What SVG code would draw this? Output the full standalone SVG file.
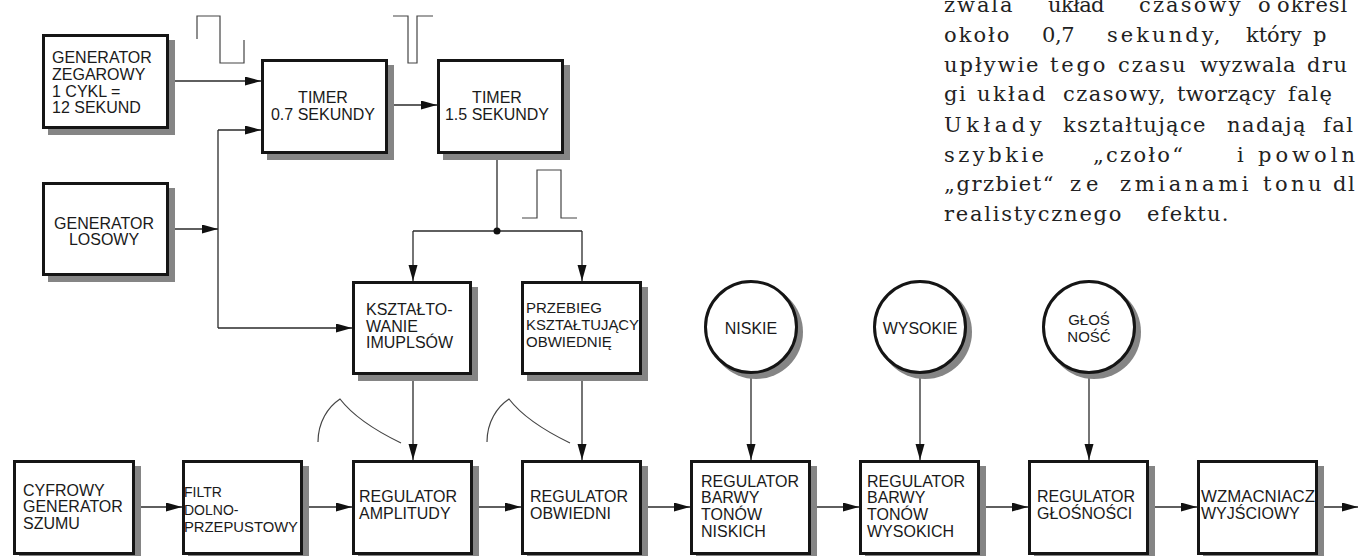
<svg xmlns="http://www.w3.org/2000/svg" width="1358" height="556" viewBox="0 0 1358 556">
<style>
.box{fill:#fff;stroke:#151515;stroke-width:3}
.shd{fill:#858585}
.t{font-family:"Liberation Sans",Arial,sans-serif;font-size:16px;fill:#1a1a1a}
.s15{font-size:15px}
.s14{font-size:14px}
.c{stroke:#2a2a2a;stroke-width:1.3;fill:none}
.w{stroke:#444;stroke-width:1.2;fill:none}
.p{font-family:"DejaVu Serif","Liberation Serif",serif;font-size:21px;fill:#222}
</style>
<defs>
<marker id="ah" markerUnits="userSpaceOnUse" markerWidth="17" markerHeight="10" refX="16" refY="4.5" orient="auto">
<path d="M0,0 L16,4.5 L0,9 z" fill="#111"/>
</marker>
</defs>
<rect width="1358" height="556" fill="#fff"/>

<!-- text paragraph -->
<g id="paragraph">
<text class="p" y="12" letter-spacing="2.5"><tspan x="944" textLength="71" lengthAdjust="spacing">zwala</tspan><tspan x="1048" textLength="59" lengthAdjust="spacing">układ</tspan><tspan x="1139" textLength="104" lengthAdjust="spacing">czasowy</tspan><tspan x="1258">o</tspan><tspan x="1277" letter-spacing="1">określ</tspan></text>
<text class="p" y="42" letter-spacing="2.5"><tspan x="944" textLength="68" lengthAdjust="spacing">około</tspan><tspan x="1042" textLength="35" lengthAdjust="spacing">0,7</tspan><tspan x="1107" textLength="116" lengthAdjust="spacing">sekundy,</tspan><tspan x="1246" textLength="58" lengthAdjust="spacing">który</tspan><tspan x="1313">p</tspan></text>
<text class="p" y="72" letter-spacing="1.5"><tspan x="944" textLength="96" lengthAdjust="spacing">upływie</tspan><tspan x="1050" textLength="57" lengthAdjust="spacing">tego</tspan><tspan x="1118" textLength="69" lengthAdjust="spacing">czasu</tspan><tspan x="1200" textLength="97" lengthAdjust="spacing">wyzwala</tspan><tspan x="1307">dru</tspan></text>
<text class="p" y="101" letter-spacing="1.5"><tspan x="944">gi</tspan><tspan x="977" textLength="70" lengthAdjust="spacing">układ</tspan><tspan x="1063" textLength="104" lengthAdjust="spacing">czasowy,</tspan><tspan x="1177" textLength="100" lengthAdjust="spacing">tworzący</tspan><tspan x="1288">falę</tspan></text>
<text class="p" y="132" letter-spacing="1.5"><tspan x="944" textLength="99" lengthAdjust="spacing">Układy</tspan><tspan x="1063" textLength="144" lengthAdjust="spacing">kształtujące</tspan><tspan x="1227" textLength="80" lengthAdjust="spacing">nadają</tspan><tspan x="1323">fal</tspan></text>
<text class="p" y="162" letter-spacing="4"><tspan x="944" textLength="104" lengthAdjust="spacing">szybkie</tspan><tspan x="1093" textLength="94" lengthAdjust="spacing">„czoło“</tspan><tspan x="1237">i</tspan><tspan x="1258">powoln</tspan></text>
<text class="p" y="191" letter-spacing="1.5"><tspan x="944" textLength="111" lengthAdjust="spacing">„grzbiet“</tspan><tspan x="1070" textLength="30" lengthAdjust="spacing">ze</tspan><tspan x="1120" textLength="130" lengthAdjust="spacing">zmianami</tspan><tspan x="1263" textLength="60" lengthAdjust="spacing">tonu</tspan><tspan x="1333">dl</tspan></text>
<text class="p" y="221" letter-spacing="1.5"><tspan x="944" textLength="179" lengthAdjust="spacing">realistycznego</tspan><tspan x="1147" textLength="83" lengthAdjust="spacing">efektu.</tspan></text>
</g>

<!-- waveforms -->
<g id="waveforms">
<path class="w" d="M197,39 V16 H220 V63 H244 V40"/>
<path class="w" d="M393,16 H408 V63 H417 V16 H433"/>
<path class="w" d="M522,218 H537 V170 H561 V218 H577"/>
<path class="w" d="M318,442 C318,422 328,407 340,399 C350,412 370,428 401,443"/>
<path class="w" d="M487,442 C487,422 497,407 509,399 C519,412 539,428 570,443"/>
</g>

<!-- connectors -->
<g id="connectors">
<path class="c" d="M169,81 H261" marker-end="url(#ah)"/>
<path class="c" d="M169,229 H218" marker-end="url(#ah)"/>
<path class="c" d="M218,130 V328"/>
<path class="c" d="M218,130 H261" marker-end="url(#ah)"/>
<path class="c" d="M218,328 H352" marker-end="url(#ah)"/>
<path class="c" d="M388,105 H437" marker-end="url(#ah)"/>
<path class="c" d="M497,154 V231"/>
<path class="c" d="M413,231 H582"/>
<path class="c" d="M413,231 V281" marker-end="url(#ah)"/>
<path class="c" d="M582,231 V281" marker-end="url(#ah)"/>
<circle cx="497" cy="231" r="3.5" fill="#111"/>
<path class="c" d="M413,375 V460" marker-end="url(#ah)"/>
<path class="c" d="M582,375 V460" marker-end="url(#ah)"/>
<path class="c" d="M751,374 V460" marker-end="url(#ah)"/>
<path class="c" d="M920,374 V460" marker-end="url(#ah)"/>
<path class="c" d="M1089,374 V460" marker-end="url(#ah)"/>
<path class="c" d="M135,507 H182" marker-end="url(#ah)"/>
<path class="c" d="M303,507 H352" marker-end="url(#ah)"/>
<path class="c" d="M473,507 H521" marker-end="url(#ah)"/>
<path class="c" d="M642,507 H690" marker-end="url(#ah)"/>
<path class="c" d="M811,507 H859" marker-end="url(#ah)"/>
<path class="c" d="M980,507 H1028" marker-end="url(#ah)"/>
<path class="c" d="M1149,507 H1197" marker-end="url(#ah)"/>
<path class="c" d="M1318,507 H1358" marker-end="url(#ah)"/>
</g>

<!-- top nodes -->
<g id="gen-zegarowy">
<rect class="shd" x="48" y="40" width="127" height="95"/>
<rect class="box" x="43.5" y="35.5" width="124" height="92"/>
<text class="t" x="52"><tspan x="52" y="63">GENERATOR</tspan><tspan x="52" y="80">ZEGAROWY</tspan><tspan x="52" y="97">1 CYKL =</tspan><tspan x="52" y="113">12 SEKUND</tspan></text>
</g>
<g id="timer-07">
<rect class="shd" x="267" y="65" width="127" height="95"/>
<rect class="box" x="262.5" y="60.5" width="124" height="92"/>
<text class="t" text-anchor="middle"><tspan x="323" y="103">TIMER</tspan><tspan x="323" y="120">0.7 SEKUNDY</tspan></text>
</g>
<g id="timer-15">
<rect class="shd" x="443" y="65" width="127" height="95"/>
<rect class="box" x="438.5" y="60.5" width="124" height="92"/>
<text class="t" text-anchor="middle"><tspan x="497" y="103">TIMER</tspan><tspan x="497" y="120">1.5 SEKUNDY</tspan></text>
</g>
<g id="gen-losowy">
<rect class="shd" x="48" y="188" width="127" height="94"/>
<rect class="box" x="43.5" y="183.5" width="124" height="91"/>
<text class="t" text-anchor="middle"><tspan x="104" y="229">GENERATOR</tspan><tspan x="104" y="245">LOSOWY</tspan></text>
</g>

<!-- middle nodes -->
<g id="ksztaltowanie">
<rect class="shd" x="358" y="287" width="120" height="94"/>
<rect class="box" x="353.5" y="282.5" width="117" height="91"/>
<text class="t"><tspan x="366" y="315">KSZTAŁTO-</tspan><tspan x="366" y="332">WANIE</tspan><tspan x="366" y="348">IMUPLSÓW</tspan></text>
</g>
<g id="przebieg">
<rect class="shd" x="527" y="287" width="121" height="94"/>
<rect class="box" x="522.5" y="282.5" width="118" height="91"/>
<text class="t s15"><tspan x="526" y="313">PRZEBIEG</tspan><tspan x="526" y="330" textLength="113" lengthAdjust="spacingAndGlyphs">KSZTAŁTUJĄCY</tspan><tspan x="526" y="347">OBWIEDNIĘ</tspan></text>
</g>
<g id="niskie">
<circle class="shd" cx="756" cy="332" r="47"/>
<circle class="box" cx="751" cy="327" r="45.5"/>
<text class="t" text-anchor="middle" x="751" y="334">NISKIE</text>
</g>
<g id="wysokie">
<circle class="shd" cx="925" cy="332" r="47"/>
<circle class="box" cx="920" cy="327" r="45.5"/>
<text class="t" text-anchor="middle" x="920" y="334">WYSOKIE</text>
</g>
<g id="glosnosc">
<circle class="shd" cx="1094" cy="332" r="47"/>
<circle class="box" cx="1089" cy="327" r="45.5"/>
<text class="t s15" text-anchor="middle"><tspan x="1089" y="325">GŁOŚ</tspan><tspan x="1089" y="342">NOŚĆ</tspan></text>
</g>

<!-- bottom nodes -->
<g id="cyfrowy-generator">
<rect class="shd" x="19" y="466" width="122" height="95"/>
<rect class="box" x="14.5" y="461.5" width="119" height="92"/>
<text class="t"><tspan x="23" y="496">CYFROWY</tspan><tspan x="23" y="512">GENERATOR</tspan><tspan x="23" y="529">SZUMU</tspan></text>
</g>
<g id="filtr">
<rect class="shd" x="188" y="466" width="121" height="95"/>
<rect class="box" x="183.5" y="461.5" width="118" height="92"/>
<text class="t s14"><tspan x="184" y="497">FILTR</tspan><tspan x="184" y="515">DOLNO-</tspan><tspan x="184" y="532" textLength="114" lengthAdjust="spacingAndGlyphs">PRZEPUSTOWY</tspan></text>
</g>
<g id="regulator-amplitudy">
<rect class="shd" x="358" y="466" width="121" height="95"/>
<rect class="box" x="353.5" y="461.5" width="118" height="92"/>
<text class="t"><tspan x="359" y="502">REGULATOR</tspan><tspan x="359" y="519">AMPLITUDY</tspan></text>
</g>
<g id="regulator-obwiedni">
<rect class="shd" x="527" y="466" width="121" height="95"/>
<rect class="box" x="522.5" y="461.5" width="118" height="92"/>
<text class="t"><tspan x="530" y="502">REGULATOR</tspan><tspan x="530" y="519">OBWIEDNI</tspan></text>
</g>
<g id="regulator-niskich">
<rect class="shd" x="696" y="466" width="121" height="95"/>
<rect class="box" x="691.5" y="461.5" width="118" height="92"/>
<text class="t"><tspan x="701" y="487">REGULATOR</tspan><tspan x="701" y="503">BARWY</tspan><tspan x="701" y="520">TONÓW</tspan><tspan x="701" y="537">NISKICH</tspan></text>
</g>
<g id="regulator-wysokich">
<rect class="shd" x="865" y="466" width="121" height="95"/>
<rect class="box" x="860.5" y="461.5" width="118" height="92"/>
<text class="t"><tspan x="867" y="487">REGULATOR</tspan><tspan x="867" y="503">BARWY</tspan><tspan x="867" y="520">TONÓW</tspan><tspan x="867" y="537">WYSOKICH</tspan></text>
</g>
<g id="regulator-glosnosci">
<rect class="shd" x="1034" y="466" width="121" height="95"/>
<rect class="box" x="1029.5" y="461.5" width="118" height="92"/>
<text class="t"><tspan x="1037" y="502">REGULATOR</tspan><tspan x="1037" y="519">GŁOŚNOŚCI</tspan></text>
</g>
<g id="wzmacniacz">
<rect class="shd" x="1203" y="466" width="121" height="95"/>
<rect class="box" x="1198.5" y="461.5" width="118" height="92"/>
<text class="t"><tspan x="1201" y="502" textLength="114" lengthAdjust="spacingAndGlyphs">WZMACNIACZ</tspan><tspan x="1201" y="519">WYJŚCIOWY</tspan></text>
</g>
</svg>
